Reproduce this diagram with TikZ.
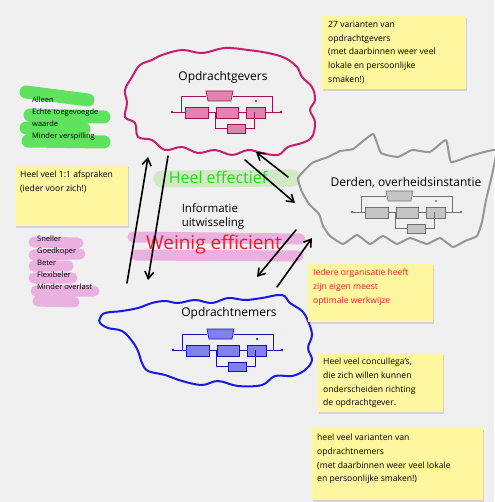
\documentclass[tikz,border=0pt]{standalone}
\usepackage{fontspec}
\setmainfont{Open Sans}
\usetikzlibrary{arrows.meta,shadows,positioning}

\definecolor{achtergrond}{RGB}{240,240,240}
\definecolor{geel}{RGB}{255,246,160}
\definecolor{roze}{RGB}{200,30,110}
\definecolor{blauw}{RGB}{25,25,225}
\definecolor{grijs}{RGB}{150,150,150}
\definecolor{markgroen}{RGB}{70,225,70}
\definecolor{markbleek}{RGB}{205,232,190}
\definecolor{markroze}{RGB}{232,165,222}
\definecolor{tekstgroen}{RGB}{40,215,40}
\definecolor{tekstrood}{RGB}{240,25,45}

% small schematic inside each cloud: colour, cloud coordinate, offset
\newcommand{\schakeling}[4]{%
  \begin{scope}[shift={(#2)}, shift={(#3,#4)}, draw=#1!75!black, line width=0.6pt]
    \fill[#1!75!black] (-54,0) circle (1.4) (55,0) circle (1.4);
    \draw (-54,0) -- (-41,0) (-18,0) -- (-10,0) (12,0) -- (20,0) (39,0) -- (55,0);
    \draw[fill=#1!55] (-41,-5) rectangle (-18,6);
    \draw[fill=#1!55] (-10,-5) rectangle (12,6);
    \draw[fill=#1!55] (20,-5) rectangle (39,6);
    \draw (-45,0) -- (-45,-16) -- (-20,-16) (7,-16) -- (46,-16) -- (46,0);
    \draw[fill=#1!55] (-20,-21) -- (7,-21) -- (5,-11) -- (-18,-11) -- cycle;
    \fill[#1!75!black] (30,-11) circle (1.2);
    \draw (-11,0) -- (-11,16) -- (1,16) (19,16) -- (28,16) -- (28,0);
    \draw[fill=#1!55] (1,12) rectangle (19,21);
  \end{scope}}

\begin{document}
\begin{tikzpicture}[x=1pt, y=-1pt,
    wolk/.style={line width=2pt, line join=round},
    titel/.style={font=\fontsize{12}{14}\selectfont, inner sep=0pt},
    notitie/.style={fill=geel, anchor=north west, inner sep=0pt,
        drop shadow={shadow xshift=1pt, shadow yshift=-1.5pt, opacity=0.25}},
    notitekst/.style={anchor=north west, align=left, inner sep=0pt, font=\fontsize{8.6}{13.7}\selectfont},
    lijstje/.style={anchor=north west, align=left, inner sep=0pt, font=\fontsize{7.5}{11.8}\selectfont},
    marker/.style={line width=#1, line cap=round, opacity=0.85},
    pijl/.style={-{Straight Barb[length=7pt,width=9pt]}, line width=1.6pt, line cap=round}
]
    \useasboundingbox (0,0) rectangle (494,502);
    \fill[achtergrond] (0,0) rectangle (494,502);

    % markers
    \draw[marker=13pt, markgroen] (26,92) -- (88,100) (30,115) -- (104,117) (26,128) -- (84,129) (28,141) -- (104,142);
    \draw[marker=11pt, markroze] (34,242) -- (78,243) (34,255) -- (80,254) (34,266) -- (68,266) (34,278) -- (72,278) (36,291) -- (94,291) (38,301) -- (74,302);
    \draw[marker=17pt, markbleek] (162,179) -- (292,178);
    \draw[marker=11pt, markroze] (133,237) -- (300,239) (136,255) -- (298,256);

    % clouds
    \coordinate (gevers) at (219,100);
    \coordinate (nemers) at (206,341);
    \coordinate (derden) at (395,195);
    \draw[wolk, roze] plot[smooth cycle, tension=0.6] coordinates {
        (140,65) (152,60) (162,55) (182,50) (202,53) (225,48) (248,50) (268,53) (285,58)
        (297,67) (302,77) (312,87) (315,100) (310,110) (315,122) (312,137) (302,143)
        (288,147) (278,155) (262,153) (248,150) (232,155) (215,150) (198,153) (182,147)
        (165,150) (152,140) (138,137) (135,123) (125,117) (127,103) (125,90) (132,77)};
    \draw[wolk, blauw] plot[smooth cycle, tension=0.6] coordinates {
        (100,318) (105,313) (122,311) (138,308) (152,303) (165,301) (178,303) (195,300)
        (212,303) (228,298) (245,300) (262,298) (282,295) (290,303) (302,311) (308,321)
        (312,335) (308,348) (312,360) (305,370) (292,376) (275,376) (262,385) (238,386)
        (218,381) (202,385) (182,381) (165,375) (148,371) (142,363) (138,351) (132,341)
        (122,331) (108,328) (100,323)};
    \draw[wolk, grijs] plot[smooth cycle, tension=0.25] coordinates {
        (298,178) (312,163) (328,157) (340,151) (353,149) (373,134) (381,153) (398,157)
        (412,150) (430,152) (446,140) (451,162) (470,156) (496,150) (492,175) (486,200)
        (482,222) (477,236) (465,241) (453,247) (440,238) (427,244) (410,238) (397,244)
        (383,236) (370,244) (357,235) (343,244) (330,236) (323,226) (319,214) (309,204)
        (302,192)};

    \node[titel] (titelgevers) at ([shift={(4,-23)}]gevers) {Opdrachtgevers};
    \node[titel] (titelnemers) at ([shift={(23,-28)}]nemers) {Opdrachtnemers};
    \node[titel] (titelderden) at ([shift={(11,-12)}]derden) {Derden, overheidsinstantie};
    \schakeling{roze}{gevers}{7}{12}
    \schakeling{blauw}{nemers}{21}{9}
    \schakeling{grijs}{derden}{11}{17}

    % middle texts
    \node[font=\fontsize{16}{18}\selectfont, text=tekstgroen, inner sep=0pt] (effectief) at (218,177) {Heel effectief};
    \node[titel, align=left, font=\fontsize{11.5}{14}\selectfont] (info) at (213,216) {Informatie\\uitwisseling};
    \node[font=\fontsize{19}{21}\selectfont, text=tekstrood, inner sep=0pt] (efficient) at (214,245) {Weinig efficient};

    % arrows
    \draw[pijl] ([shift={(-79,-58)}]nemers) -- ([shift={(-71,57)}]gevers);
    \draw[pijl] ([shift={(-51,56)}]gevers) -- ([shift={(-58,-61)}]nemers);
    \draw[pijl] ([shift={(26,60)}]gevers) -- ([shift={(-100,8)}]derden);
    \draw[pijl] ([shift={(-107,-18)}]derden) -- ([shift={(37,52)}]gevers);
    \draw[pijl] ([shift={(-99,35)}]derden) -- ([shift={(51,-64)}]nemers);
    \draw[pijl] ([shift={(71,-54)}]nemers) -- ([shift={(-83,43)}]derden);

    % left lists
    \node[lijstje] (waarde) at (32,97) {Alleen\\Echte toegevoegde\\waarde\\Minder verspilling};
    \node[lijstje] (beter) at (37,236) {Sneller\\Goedkoper\\Beter\\Flexibeler\\Minder overlast};

    % sticky notes
    \node[notitie, minimum width=144pt, minimum height=73pt] (nGevers) at (322,16) {};
    \node[notitekst] at ([shift={(6,5)}]nGevers.north west) {27 varianten van\\opdrachtgevers\\(met daarbinnen weer veel\\lokale en persoonlijke\\smaken!)};
    \node[notitie, minimum width=113pt, minimum height=61pt] (nAfspraken) at (15,165) {};
    \node[notitekst] at ([shift={(5,6)}]nAfspraken.north west) {Heel veel 1:1 afspraken\\(ieder voor zich!)};
    \node[notitie, minimum width=125pt, minimum height=59pt] (nWerkwijze) at (308,263) {};
    \node[notitekst, text=tekstrood] at ([shift={(5,6)}]nWerkwijze.north west) {Iedere organisatie heeft\\zijn eigen meest\\optimale werkwijze};
    \node[notitie, minimum width=125pt, minimum height=59pt] (nCollega) at (318,353) {};
    \node[notitekst] at ([shift={(5,5)}]nCollega.north west) {Heel veel concullega's,\\die zich willen kunnen\\onderscheiden richting\\de opdrachtgever.};
    \node[notitie, minimum width=171pt, minimum height=72pt] (nVarianten) at (312,428) {};
    \node[notitekst] at ([shift={(5,6)}]nVarianten.north west) {heel veel varianten van\\opdrachtnemers\\(met daarbinnen weer veel lokale\\en persoonlijke smaken!)};
\end{tikzpicture}
\end{document}
